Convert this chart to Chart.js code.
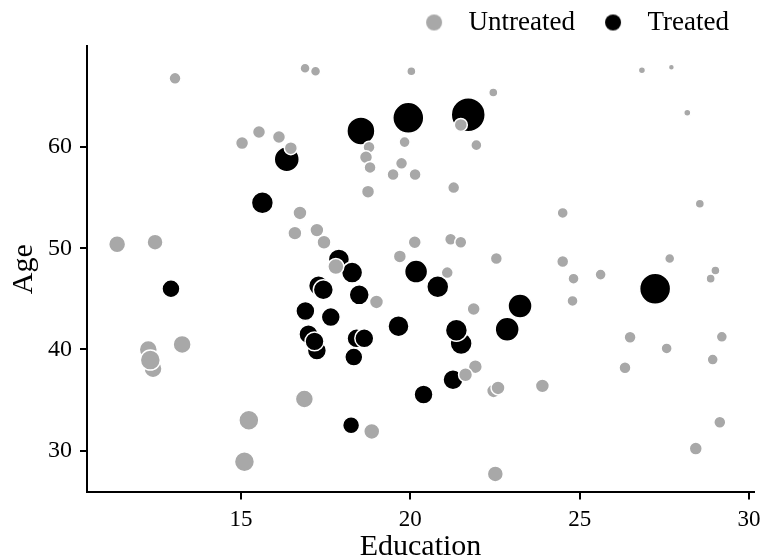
<!DOCTYPE html>
<html>
<head>
<meta charset="utf-8">
<title>Education vs Age</title>
<script src="https://cdn.jsdelivr.net/npm/chart.js@4.4.1/dist/chart.umd.min.js"></script>
<style>
  html, body { margin: 0; padding: 0; background: #fff; }
  #wrap { width: 762px; height: 559px; }
</style>
</head>
<body>
<div id="wrap"><canvas id="chart" width="762" height="559"></canvas></div>
<script>
// ---- data ----
const seriesNames = ['Untreated', 'Treated'];

const untreatedEdu = [11.34, 12.46, 13.05, 12.26, 12.4, 12.32, 13.26, 15.23, 15.1, 15.03,
  15.53, 16.12, 16.47, 16.89, 17.2, 16.74, 16.59, 17.24, 17.45, 16.87,
  17.8, 20.03, 22.45, 21.49, 21.95, 18.78, 18.69, 18.81, 19.83, 19.74,
  19.49, 20.14, 18.75, 21.28, 24.5, 20.13, 21.19, 21.49, 19.69, 22.54,
  24.5, 21.09, 19.0, 21.87, 21.92, 21.63, 22.46, 22.59, 23.9, 18.86,
  22.51, 26.84, 27.71, 28.18, 28.55, 24.82, 25.62, 27.66, 29.01, 28.87,
  24.79, 26.49, 29.2, 27.57, 28.93, 26.34, 29.14, 28.43];
const untreatedAge = [50.4, 50.6, 66.8, 40.0, 38.1, 38.95, 40.5, 33.0, 28.9, 60.4,
  61.5, 61.0, 59.9, 67.8, 67.5, 53.5, 51.5, 51.8, 50.6, 35.1,
  48.2, 67.5, 65.4, 62.2, 60.2, 60.0, 59.0, 58.0, 60.5, 58.4,
  57.3, 57.3, 55.6, 56.0, 53.5, 50.6, 50.9, 50.6, 49.2, 49.0,
  48.7, 47.6, 44.7, 44.0, 38.3, 37.5, 35.9, 36.2, 36.4, 31.9,
  27.7, 67.6, 67.9, 63.4, 54.4, 47.0, 47.4, 49.0, 47.8, 47.0,
  44.8, 41.2, 41.25, 40.1, 39.0, 38.2, 32.8, 30.2];
const untreatedSize = [8, 7.1, 4, 9, 9, 11.1, 9, 11.1, 11.1, 4.7,
  4.7, 4.7, 4.7, 2.8, 2.8, 5.4, 5.4, 5.4, 5.4, 9,
  7.1, 2.3, 2.3, 4.7, 3.4, 4, 4.7, 4, 3.4, 4,
  4, 4, 4.7, 4, 3.4, 4.7, 4, 4, 4.7, 4,
  4, 4, 5.4, 4.7, 5.4, 5.4, 5.4, 5.4, 5.4, 7.1,
  7.1, 1.4, 1, 1.4, 2.3, 3.4, 3.4, 2.8, 2.3, 2.3,
  3.4, 4, 3.4, 3.4, 3.4, 4, 4, 4.7];

const treatedEdu = [12.93, 15.63, 16.35, 18.54, 19.94, 21.71, 17.29, 17.43, 16.9, 17.65,
  16.99, 17.24, 17.17, 17.89, 18.28, 18.49, 18.41, 18.64, 18.33, 19.65,
  20.17, 20.81, 21.5, 21.36, 23.24, 22.86, 21.26, 20.39, 18.25, 27.23];
const treatedAge = [46.0, 54.5, 58.8, 61.6, 62.9, 63.2, 46.3, 45.9, 43.8, 43.2,
  41.5, 39.9, 40.8, 48.9, 47.6, 45.4, 41.1, 41.1, 39.25, 42.3,
  47.7, 46.2, 40.6, 41.9, 44.3, 42.0, 37.0, 35.55, 32.5, 46.0];
const treatedSize = [9, 13.4, 17.4, 21.8, 26.7, 32.1, 11.1, 11.1, 10, 10,
  10, 10, 10, 12.3, 12.3, 11.1, 10, 10, 9, 12.3,
  14.7, 13.4, 13.4, 13.4, 16, 16, 11.1, 10, 8, 26.7];

const xTicks = [15, 20, 25, 30];
const yTicks = [30, 40, 50, 60];

// ---- styling ----
const FONT = "'Liberation Serif', 'DejaVu Serif', serif";
const GREY = '#a8a8a8';
const BLACK = '#000000';

// size variable -> bubble radius in px
const radius = v => Math.sqrt(v) * 3;

function toPoints(xs, ys, sizes) {
  return xs.map((x, i) => ({ x: x, y: ys[i], r: radius(sizes[i]) }));
}

// legend marker with the dot shifted left of the box centre
function legendDot(color) {
  const c = document.createElement('canvas');
  c.width = 36; c.height = 18;
  const g = c.getContext('2d');
  g.fillStyle = color;
  g.beginPath();
  g.arc(10, 9, 8, 0, Math.PI * 2);
  g.fill();
  return c;
}

const axisLine = { display: true, color: BLACK, width: 2 };
const tickGrid = { display: true, drawOnChartArea: false, drawTicks: true, tickLength: 7, lineWidth: 2, color: BLACK };

new Chart(document.getElementById('chart'), {
  type: 'bubble',
  data: {
    datasets: [{
      label: seriesNames[0],
      data: toPoints(untreatedEdu, untreatedAge, untreatedSize),
      backgroundColor: GREY,
      borderColor: '#ffffff',
      borderWidth: 1.5,
      hoverBorderWidth: 1.5
    }, {
      label: seriesNames[1],
      data: toPoints(treatedEdu, treatedAge, treatedSize),
      backgroundColor: BLACK,
      borderColor: '#ffffff',
      borderWidth: 1.5,
      hoverBorderWidth: 1.5
    }]
  },
  options: {
    responsive: false,
    animation: false,
    devicePixelRatio: 1,
    // legend sits in the top margin, so pull everything up a bit
    layout: { autoPadding: false, padding: { left: 2, right: 0, top: -24, bottom: -6 } },
    plugins: {
      tooltip: { enabled: false },
      legend: {
        position: 'top',
        align: 'end',
        labels: {
          usePointStyle: true,
          boxWidth: 26,
          boxHeight: 18,
          padding: 33,
          color: BLACK,
          font: { family: FONT, size: 27 },
          generateLabels: chart => chart.data.datasets.map((ds, i) => ({
            text: ds.label,
            pointStyle: legendDot(ds.backgroundColor),
            fillStyle: ds.backgroundColor,
            strokeStyle: ds.backgroundColor,
            lineWidth: 0,
            fontColor: BLACK,
            datasetIndex: i,
            hidden: false
          }))
        }
      }
    },
    scales: {
      x: {
        type: 'linear',
        min: 10.45,
        max: 30.15,
        afterBuildTicks: s => { s.ticks = xTicks.map(v => ({ value: v })); },
        // let the axis run closer to the right edge
        afterFit: s => { s.paddingRight = 8; },
        ticks: { color: BLACK, font: { family: FONT, size: 23 }, padding: 7, maxRotation: 0 },
        grid: tickGrid,
        border: axisLine,
        title: { display: true, text: 'Education', color: BLACK, font: { family: FONT, size: 30 }, padding: { top: -12, bottom: 0 } }
      },
      y: {
        type: 'linear',
        min: 25.87,
        max: 70,
        afterBuildTicks: s => { s.ticks = yTicks.map(v => ({ value: v })); },
        ticks: { color: BLACK, font: { family: FONT, size: 24 }, padding: 8 },
        grid: tickGrid,
        border: axisLine,
        title: { display: true, text: 'Age', color: BLACK, font: { family: FONT, size: 30 }, padding: { top: 4, bottom: -2 } }
      }
    }
  }
});
</script>
</body>
</html>
